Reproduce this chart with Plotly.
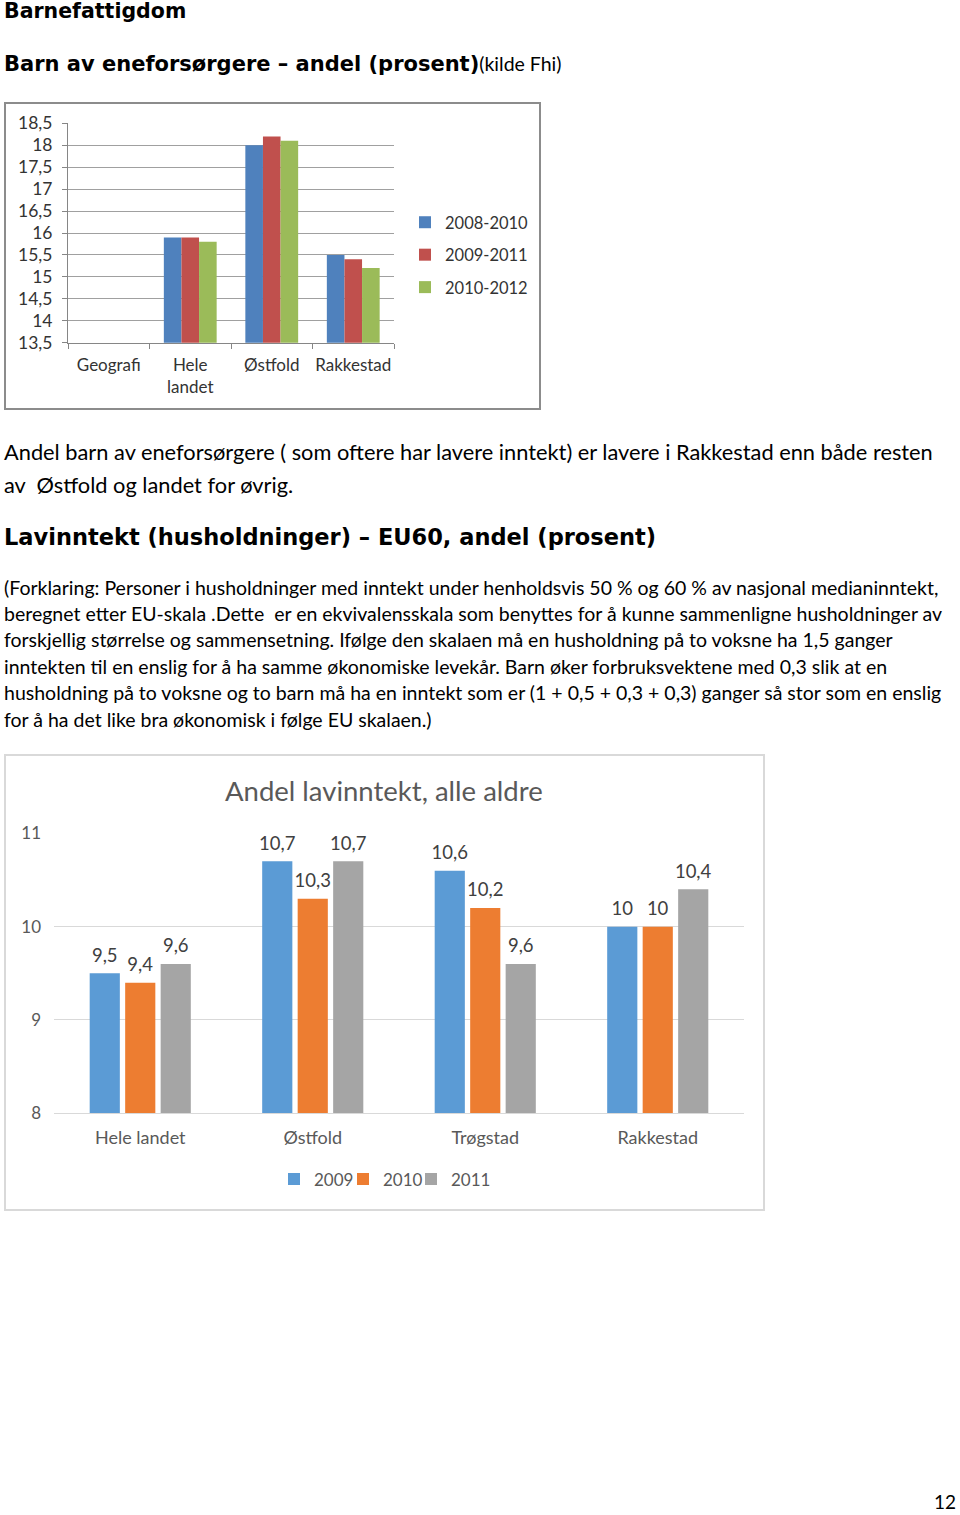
import plotly.graph_objects as go

W, H = 960, 1515

# ---------------- data ----------------
cats1 = ["Geografi", "Hele landet", "Østfold", "Rakkestad"]
ticktext1 = ["Geografi", "Hele<br>landet", "Østfold", "Rakkestad"]
series1_names = ["2008-2010", "2009-2011", "2010-2012"]
v_2008_2010 = [None, 15.9, 18.0, 15.5]
v_2009_2011 = [None, 15.9, 18.2, 15.4]
v_2010_2012 = [None, 15.8, 18.1, 15.2]

cats2 = ["Hele landet", "Østfold", "Trøgstad", "Rakkestad"]
series2_names = ["2009", "2010", "2011"]
v_2009 = [9.5, 10.7, 10.6, 10.0]
v_2010 = [9.4, 10.3, 10.2, 10.0]
v_2011 = [9.6, 10.7, 9.6, 10.4]

# ---------------- helpers ----------------
def px(x):
    return x / W

def py(y):
    return 1 - y / H

def fmt(v):
    # value label; the small trailing line lifts the label a little off the bar
    return "<span style='font-size:18.5px'>" + f"{v:g}".replace(".", ",") + "</span><br>\u00a0"

fig = go.Figure()

# Chart 1
colors1 = ["#4F81BD", "#C0504D", "#9BBB59"]
bw = 0.216
offsets1 = [-1.5 * bw, -0.5 * bw, 0.5 * bw]
for i, (name, vals) in enumerate(zip(series1_names, [v_2008_2010, v_2009_2011, v_2010_2012])):
    fig.add_trace(go.Bar(
        x=cats1, y=vals, name=name, marker_color=colors1[i], marker_line_width=0,
        width=bw, offset=offsets1[i], xaxis="x", yaxis="y",
        legend="legend", legendgroup=f"g1_{i}",
    ))

# Chart 2 (each series gets its own small legend so the entries can sit tight)
colors2 = ["#5B9BD5", "#ED7D31", "#A5A5A5"]
legend_ids2 = ["legend2", "legend3", "legend4"]
for i, (name, vals) in enumerate(zip(series2_names, [v_2009, v_2010, v_2011])):
    fig.add_trace(go.Bar(
        x=cats2, y=vals, name=name, marker_color=colors2[i], marker_line_width=0,
        text=[fmt(v) for v in vals], textposition="outside", cliponaxis=False,
        constraintext="none",
        textfont=dict(family="Lato", size=6, color="#404040"),
        xaxis="x2", yaxis="y2", legend=legend_ids2[i],
    ))

grid_dark = "#A0A0A0"
leg2_font = dict(family="Lato", size=17, color="#595959")
fig.update_layout(
    width=W, height=H, autosize=False,
    margin=dict(l=0, r=0, t=0, b=0, autoexpand=False),
    paper_bgcolor="white", plot_bgcolor="white",
    separators=", ",
    barmode="group", bargap=0.383, bargroupgap=0.15,
    font=dict(family="Lato", color="#000000"),
    xaxis=dict(
        domain=[px(68), px(394)], anchor="y", type="category",
        categoryorder="array", categoryarray=cats1,
        tickvals=cats1, ticktext=ticktext1, tickangle=0,
        tickson="boundaries", ticks="outside", ticklen=5, tickcolor="#868686",
        showline=True, linecolor="#868686", linewidth=1, showgrid=False,
        tickfont=dict(family="Lato", size=17, color="#333333"),
        ticklabelstandoff=7, fixedrange=True,
    ),
    yaxis=dict(
        domain=[py(342.7), py(123.3)], anchor="x", range=[13.5, 18.5],
        dtick=0.5, tick0=13.5, ticks="outside", ticklen=5, tickcolor="#868686",
        showline=True, linecolor="#868686", linewidth=1,
        showgrid=True, gridcolor=grid_dark, gridwidth=1,
        tickfont=dict(family="Lato", size=17.5, color="#333333"),
        ticklabelstandoff=6, zeroline=False,
    ),
    xaxis2=dict(
        domain=[px(54), px(744)], anchor="y2", type="category",
        categoryorder="array", categoryarray=cats2, tickangle=0,
        showline=True, linecolor="#D9D9D9", linewidth=1, showgrid=False, ticks="",
        tickfont=dict(family="Lato", size=18, color="#595959"),
        ticklabelstandoff=8,
    ),
    yaxis2=dict(
        domain=[py(1113.3), py(833.3)], anchor="x2", range=[8, 11], dtick=1,
        showline=False, showgrid=True, gridcolor="#D9D9D9", gridwidth=1,
        tickfont=dict(family="Lato", size=17, color="#595959"),
        ticklabelstandoff=12, zeroline=False,
    ),
    legend=dict(
        x=px(405), y=py(205), xanchor="left", yanchor="top",
        font=dict(family="Lato", size=16.5, color="#333333"),
        tracegroupgap=8, itemwidth=30, bgcolor="rgba(0,0,0,0)",
    ),
    legend2=dict(orientation="h", x=px(274), y=py(1161.5), xanchor="left", yanchor="top",
                 font=leg2_font, itemwidth=30, bgcolor="rgba(0,0,0,0)"),
    legend3=dict(orientation="h", x=px(343), y=py(1161.5), xanchor="left", yanchor="top",
                 font=leg2_font, itemwidth=30, bgcolor="rgba(0,0,0,0)"),
    legend4=dict(orientation="h", x=px(411), y=py(1161.5), xanchor="left", yanchor="top",
                 font=leg2_font, itemwidth=30, bgcolor="rgba(0,0,0,0)"),
    showlegend=True,
)

# chart frames
fig.add_shape(type="rect", xref="paper", yref="paper",
              x0=px(5), x1=px(540), y0=py(409), y1=py(103),
              line=dict(color="#8C8C8C", width=2), layer="below")
fig.add_shape(type="rect", xref="paper", yref="paper",
              x0=px(5), x1=px(764), y0=py(1210), y1=py(755),
              line=dict(color="#D9D9D9", width=2), layer="below")

def note(text, x, y, size, family="Lato", color="#000000", xanchor="left"):
    fig.add_annotation(text=text, x=px(x), y=py(y), xref="paper", yref="paper",
                       xanchor=xanchor, yanchor="middle", showarrow=False,
                       font=dict(family=family, size=size, color=color), align="left")

head = "DejaVu Sans"
note("<b>Barnefattigdom</b>", 2, 11, 20.5, family=head)
note("<b>Barn av eneforsørgere – andel (prosent)</b>"
     "<span style='font-family:Lato;font-size:19.5px'>(kilde Fhi)</span>", 2, 64, 21, family=head)

note("Andel barn av eneforsørgere ( som oftere har lavere inntekt) er lavere i Rakkestad enn både resten",
     2, 451, 21.8)
note("av  Østfold og landet for øvrig.", 2, 484, 21.8)

note("<b>Lavinntekt (husholdninger) – EU60, andel (prosent)</b>", 2, 537, 22.5, family=head)

para = [
    "(Forklaring: Personer i husholdninger med inntekt under henholdsvis 50 % og 60 % av nasjonal medianinntekt,",
    "beregnet etter EU-skala .Dette  er en ekvivalensskala som benyttes for å kunne sammenligne husholdninger av",
    "forskjellig størrelse og sammensetning. Ifølge den skalaen må en husholdning på to voksne ha 1,5 ganger",
    "inntekten til en enslig for å ha samme økonomiske levekår. Barn øker forbruksvektene med 0,3 slik at en",
    "husholdning på to voksne og to barn må ha en inntekt som er (1 + 0,5 + 0,3 + 0,3) ganger så stor som en enslig",
    "for å ha det like bra økonomisk i følge EU skalaen.)",
]
for k, line in enumerate(para):
    note(line, 2, 587 + k * 26.4, 19.5)

note("Andel lavinntekt, alle aldre", 384, 790, 27.5, color="#595959", xanchor="center")
note("12", 945, 1501, 19, xanchor="center")

fig.write_html(
    "out.html",
    config={"displayModeBar": False},
    post_script=(
        "var s=document.createElement('style');"
        "s.innerHTML='html,body{margin:0;padding:0;overflow:hidden;height:1515px;}"
        ".plotly-graph-div{position:absolute;top:0;left:0;}';"
        "document.head.appendChild(s);"
    ),
)
